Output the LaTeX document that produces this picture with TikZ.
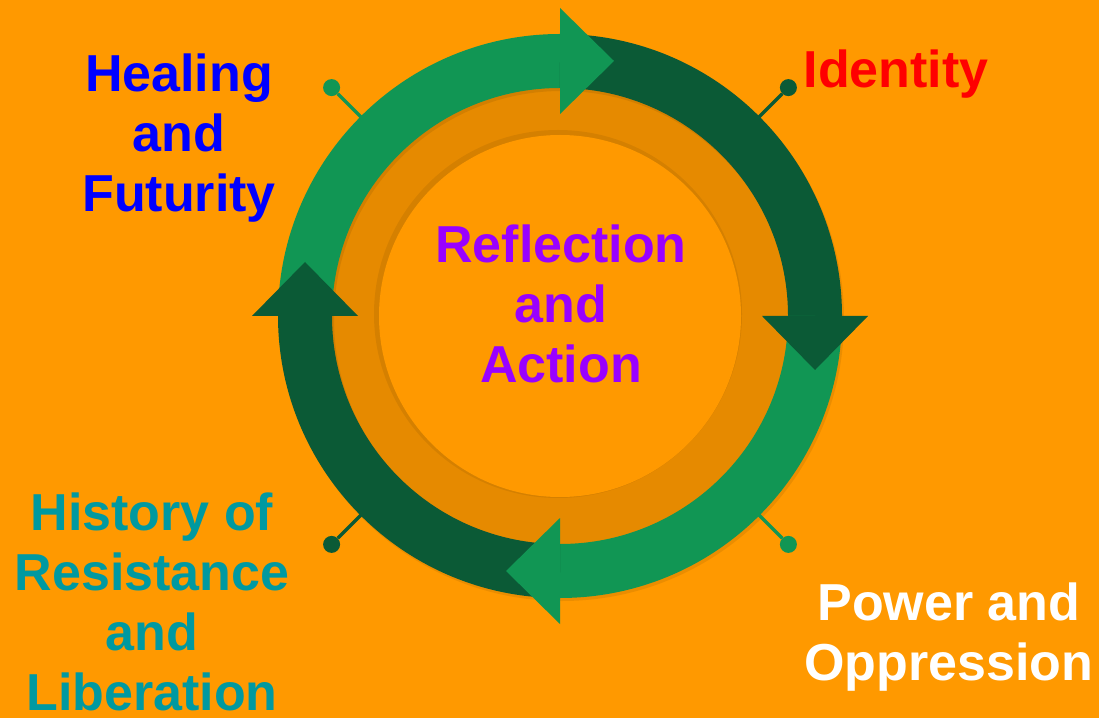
\documentclass[tikz,border=0pt]{standalone}
\usepackage{fontspec}
\setmainfont{Liberation Sans}
\usetikzlibrary{calc}
\definecolor{grund}{RGB}{255,153,0}
\definecolor{grunddunkel}{RGB}{230,138,0}
\definecolor{gruenhell}{RGB}{17,150,84}
\definecolor{gruendunkel}{RGB}{11,90,54}
\definecolor{blau}{RGB}{0,0,255}
\definecolor{rot}{RGB}{255,0,0}
\definecolor{lila}{RGB}{153,0,255}
\definecolor{tuerkis}{RGB}{0,153,160}

\begin{document}
\begin{tikzpicture}[x=1pt, y=1pt,
	ring/.style={line width=54pt},
	knob/.style={circle, inner sep=0pt, minimum size=17pt},
	stiel/.style={line width=3.5pt},
	label/.style={font=\bfseries\fontsize{52}{60}\selectfont, align=center, anchor=base, inner sep=0pt}]

	% background and inner disc
	\fill[grund] (0,0) rectangle (1099,718);
	\useasboundingbox (0,0) rectangle (1099,718);
	\coordinate (c) at (560,402);
	\fill[grunddunkel] (c) circle[radius=229];
	\fill[black, opacity=0.07] ($(c)+(-2,2)$) circle[radius=184];
	\fill[grund] (c) circle[radius=181];

	% shadow of the ring
	\draw[ring, black, opacity=0.08] ($(c)+(2,-3)$) circle[radius=255];

	% four arc segments, clockwise
	\foreach \a/\farbe in {180/gruenhell, 90/gruendunkel, 0/gruenhell, -90/gruendunkel}{
		\draw[ring, \farbe] (c) ++(\a:255) arc[start angle=\a, end angle=\a-90, radius=255];
	}
	% arrow heads on top
	\foreach \a/\farbe in {90/gruenhell, 0/gruendunkel, -90/gruenhell, -180/gruendunkel}{
		\fill[\farbe] ($(c)+(\a:202)$) -- ($(c)+(\a:308)$) -- ($(c)+(\a:255)+(\a-90:54)$) -- cycle;
	}

	% pins
	\foreach \a/\farbe in {135/gruenhell, 45/gruendunkel, -45/gruenhell, -135/gruendunkel}{
		\coordinate (pin\a) at ($(c)+(\a:280)$);
		\node[knob, fill=\farbe] (knopf\a) at ($(c)+(\a:323)$) {};
		\draw[stiel, \farbe] (pin\a) -- (knopf\a);
	}

	% texts (base = last line)
	\node[label, blau] (heilung) at (179,506) {Healing\\and\\Futurity};
	\node[label, rot] (identitaet) at (896,630) {Identity};
	\node[label, lila] (reflexion) at (561,335) {Reflection\\and\\Action};
	\node[label, tuerkis, text depth=0pt] (geschichte) at (152,8) {History of\\Resistance\\and\\Liberation};
	\node[label, white] (macht) at (949,38) {Power and\\Oppression};

\end{tikzpicture}
\end{document}
